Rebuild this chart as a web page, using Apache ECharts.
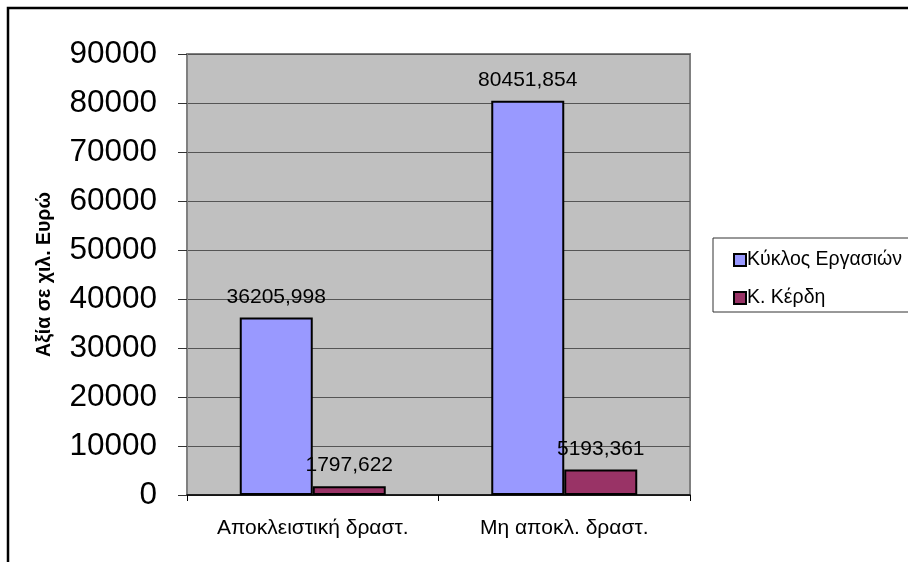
<!DOCTYPE html>
<html>
<head>
<meta charset="utf-8">
<script src="https://cdn.jsdelivr.net/npm/echarts@6/dist/echarts.min.js"></script>
<style>
html,body{margin:0;padding:0;background:#fff;}
#c{width:908px;height:562px;}
</style>
</head>
<body>
<div id="c"></div>
<script>
var categories = ['Αποκλειστική δραστ.', 'Μη αποκλ. δραστ.'];
var seriesNames = ['Κύκλος Εργασιών', 'Κ. Κέρδη'];
var turnover = [36205.998, 80451.854];
var profits = [1797.622, 5193.361];
var yAxisName = 'Αξία σε χιλ. Ευρώ';

var FONT = "'Liberation Sans', Arial, sans-serif";
function fmt(p) { return String(p.value).replace('.', ','); }

var chart = echarts.init(document.getElementById('c'));
chart.setOption({
  backgroundColor: '#ffffff',
  animation: false,
  textStyle: { fontFamily: FONT },
  graphic: [
    { type: 'rect', shape: { x: 8, y: 8, width: 1000, height: 1000 },
      style: { fill: 'none', stroke: '#000', lineWidth: 2.5 }, silent: true },
    { type: 'rect', shape: { x: 713, y: 238, width: 300, height: 74 },
      style: { fill: 'none', stroke: '#333', lineWidth: 1 }, silent: true }
  ],
  legend: {
    orient: 'vertical',
    left: 728,
    top: 245,
    itemWidth: 12,
    itemHeight: 12,
    itemGap: 18,
    icon: 'rect',
    textStyle: { fontSize: 19.5, color: '#000', fontFamily: FONT, padding: [0, 0, 0, -4] },
    data: seriesNames
  },
  grid: {
    left: 187, right: 218, top: 54, bottom: 67,
    show: true, backgroundColor: '#C0C0C0', borderColor: '#808080', borderWidth: 2
  },
  xAxis: {
    type: 'category',
    data: categories,
    axisLine: { show: true, lineStyle: { color: '#000', width: 1.5 } },
    axisTick: { show: true, length: 6, lineStyle: { color: '#000' } },
    axisLabel: { fontSize: 21, color: '#000', margin: 23, fontFamily: FONT },
    splitLine: { show: false }
  },
  yAxis: {
    type: 'value',
    min: 0, max: 90000, interval: 10000,
    name: yAxisName,
    nameLocation: 'middle',
    nameRotate: 90,
    nameGap: 132,
    nameTextStyle: { fontSize: 19.5, fontWeight: 'bold', color: '#000', fontFamily: FONT },
    axisLine: { show: true, lineStyle: { color: '#808080', width: 2 } },
    axisTick: { show: true, length: 9, lineStyle: { color: '#333' } },
    axisLabel: { fontSize: 31.5, color: '#000', margin: 30, fontFamily: FONT,
                 formatter: function (v) { return String(v); } },
    splitLine: { show: true, lineStyle: { color: '#555', width: 1 } }
  },
  series: [
    {
      name: seriesNames[0], type: 'bar', data: turnover,
      barWidth: 73, barGap: '0%',
      itemStyle: { color: '#9999FF', borderColor: '#000', borderWidth: 2 },
      label: { show: true, position: 'top', distance: 10, fontSize: 21, color: '#000', fontFamily: FONT, formatter: fmt }
    },
    {
      name: seriesNames[1], type: 'bar', data: profits,
      barWidth: 73, barGap: '0%',
      itemStyle: { color: '#993366', borderColor: '#000', borderWidth: 2 },
      label: { show: true, position: 'top', distance: 10, fontSize: 21, color: '#000', fontFamily: FONT, formatter: fmt }
    }
  ]
});
</script>
</body>
</html>
